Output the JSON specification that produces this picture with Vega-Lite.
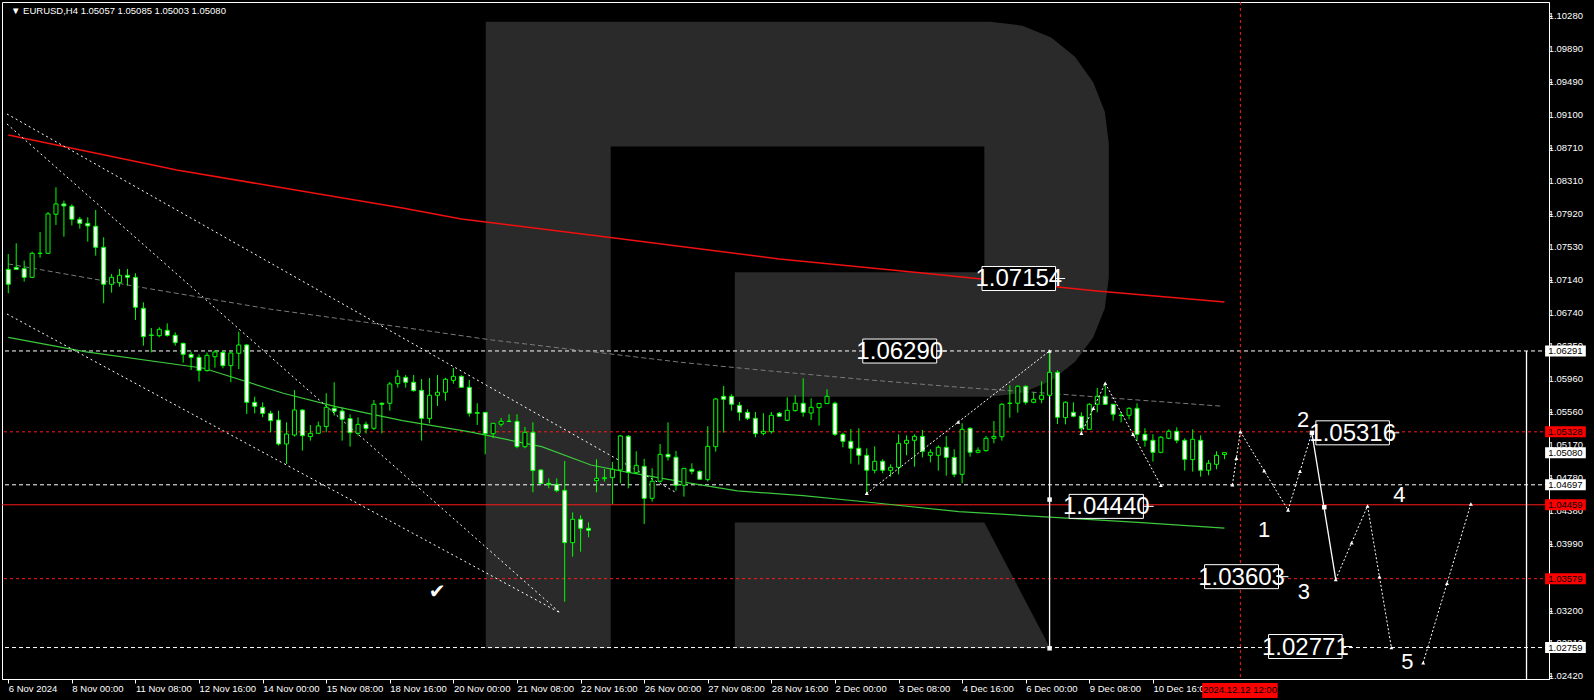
{
  "$schema": "https://vega.github.io/schema/vega-lite/v6.json",
  "width": 1547,
  "height": 677,
  "autosize": "none",
  "padding": {"left": 2, "top": 2, "right": 45, "bottom": 21},
  "background": "#000000",
  "config": {
    "view": {"stroke": "#ffffff", "strokeWidth": 1},
    "axis": {"grid": false, "domainColor": "#ffffff", "tickColor": "#ffffff", "labelColor": "#ffffff", "labelFont": "Liberation Sans", "labelFontSize": 9.5, "zindex": 0, "labelOverlap": false, "labelFlush": false}
  },
  "datasets": {
    "candles": [
      {"i":0,"o":1.07263,"h":1.07446,"l":1.06978,"c":1.07085},
      {"i":1,"o":1.07287,"h":1.07573,"l":1.07256,"c":1.07263},
      {"i":2,"o":1.07271,"h":1.07367,"l":1.07117,"c":1.07168},
      {"i":3,"o":1.07168,"h":1.07474,"l":1.0716,"c":1.07454},
      {"i":4,"o":1.07452,"h":1.07708,"l":1.07402,"c":1.07456},
      {"i":5,"o":1.07454,"h":1.07946,"l":1.0745,"c":1.07923},
      {"i":6,"o":1.07919,"h":1.0824,"l":1.07791,"c":1.08042},
      {"i":7,"o":1.08042,"h":1.08081,"l":1.07652,"c":1.08018},
      {"i":8,"o":1.08014,"h":1.08038,"l":1.07787,"c":1.07859},
      {"i":9,"o":1.07859,"h":1.07887,"l":1.07748,"c":1.07811},
      {"i":10,"o":1.07811,"h":1.07883,"l":1.07593,"c":1.0778},
      {"i":11,"o":1.07776,"h":1.0797,"l":1.07426,"c":1.07525},
      {"i":12,"o":1.07525,"h":1.07645,"l":1.06859,"c":1.07085},
      {"i":13,"o":1.07085,"h":1.07208,"l":1.06986,"c":1.07168},
      {"i":14,"o":1.07105,"h":1.07267,"l":1.07057,"c":1.07192},
      {"i":15,"o":1.07192,"h":1.07267,"l":1.07069,"c":1.07168},
      {"i":16,"o":1.07168,"h":1.07216,"l":1.0666,"c":1.06811},
      {"i":17,"o":1.06799,"h":1.0687,"l":1.06354,"c":1.06462},
      {"i":18,"o":1.06481,"h":1.06565,"l":1.06275,"c":1.06477},
      {"i":19,"o":1.06473,"h":1.06573,"l":1.06454,"c":1.06549},
      {"i":20,"o":1.06537,"h":1.0662,"l":1.06462,"c":1.06477},
      {"i":21,"o":1.06477,"h":1.06513,"l":1.06354,"c":1.0639},
      {"i":22,"o":1.06382,"h":1.0639,"l":1.06152,"c":1.06251},
      {"i":23,"o":1.06251,"h":1.06283,"l":1.06065,"c":1.06215},
      {"i":24,"o":1.06215,"h":1.06251,"l":1.05926,"c":1.06057},
      {"i":25,"o":1.06057,"h":1.06271,"l":1.06045,"c":1.06239},
      {"i":26,"o":1.06223,"h":1.06303,"l":1.06092,"c":1.06279},
      {"i":27,"o":1.06275,"h":1.06291,"l":1.06084,"c":1.06116},
      {"i":28,"o":1.06116,"h":1.06291,"l":1.05918,"c":1.06267},
      {"i":29,"o":1.06263,"h":1.06521,"l":1.06076,"c":1.06362},
      {"i":30,"o":1.06362,"h":1.06374,"l":1.0554,"c":1.05679},
      {"i":31,"o":1.05679,"h":1.05747,"l":1.05548,"c":1.05632},
      {"i":32,"o":1.0562,"h":1.05679,"l":1.05501,"c":1.05548},
      {"i":33,"o":1.05548,"h":1.0558,"l":1.05322,"c":1.05461},
      {"i":34,"o":1.05469,"h":1.0558,"l":1.05163,"c":1.05183},
      {"i":35,"o":1.05183,"h":1.05441,"l":1.04945,"c":1.05302},
      {"i":36,"o":1.0529,"h":1.05826,"l":1.05271,"c":1.05588},
      {"i":37,"o":1.05588,"h":1.05596,"l":1.05104,"c":1.05282},
      {"i":38,"o":1.05271,"h":1.05409,"l":1.05223,"c":1.0531},
      {"i":39,"o":1.0531,"h":1.05449,"l":1.05305,"c":1.05398},
      {"i":40,"o":1.0539,"h":1.05787,"l":1.05322,"c":1.0562},
      {"i":41,"o":1.05608,"h":1.05918,"l":1.05521,"c":1.05572},
      {"i":42,"o":1.05576,"h":1.05616,"l":1.05223,"c":1.05477},
      {"i":43,"o":1.05485,"h":1.05537,"l":1.05151,"c":1.05318},
      {"i":44,"o":1.0531,"h":1.05501,"l":1.05282,"c":1.05417},
      {"i":45,"o":1.05417,"h":1.05449,"l":1.0531,"c":1.05366},
      {"i":46,"o":1.0537,"h":1.05707,"l":1.0535,"c":1.05656},
      {"i":47,"o":1.05668,"h":1.05679,"l":1.0531,"c":1.05656},
      {"i":48,"o":1.05668,"h":1.05922,"l":1.0558,"c":1.05898},
      {"i":49,"o":1.05902,"h":1.06065,"l":1.05854,"c":1.05989},
      {"i":50,"o":1.05977,"h":1.06005,"l":1.05854,"c":1.05918},
      {"i":51,"o":1.05918,"h":1.06005,"l":1.05807,"c":1.05818},
      {"i":52,"o":1.05822,"h":1.05957,"l":1.05223,"c":1.05489},
      {"i":53,"o":1.05485,"h":1.05969,"l":1.05429,"c":1.05763},
      {"i":54,"o":1.05763,"h":1.06005,"l":1.05636,"c":1.05799},
      {"i":55,"o":1.05799,"h":1.05973,"l":1.05699,"c":1.05953},
      {"i":56,"o":1.05941,"h":1.06088,"l":1.05902,"c":1.05989},
      {"i":57,"o":1.05989,"h":1.06001,"l":1.0585,"c":1.05858},
      {"i":58,"o":1.05858,"h":1.05945,"l":1.05509,"c":1.05549},
      {"i":59,"o":1.05556,"h":1.05668,"l":1.0541,"c":1.05549},
      {"i":60,"o":1.0556,"h":1.0556,"l":1.0506,"c":1.05306},
      {"i":61,"o":1.05306,"h":1.05429,"l":1.05251,"c":1.05429},
      {"i":62,"o":1.05418,"h":1.05493,"l":1.0539,"c":1.05453},
      {"i":63,"o":1.05455,"h":1.05537,"l":1.0545,"c":1.05451},
      {"i":64,"o":1.05453,"h":1.05537,"l":1.05132,"c":1.05151},
      {"i":65,"o":1.05151,"h":1.05386,"l":1.05132,"c":1.05322},
      {"i":66,"o":1.05322,"h":1.05441,"l":1.04608,"c":1.04866},
      {"i":67,"o":1.04874,"h":1.04882,"l":1.04707,"c":1.04711},
      {"i":68,"o":1.04715,"h":1.04774,"l":1.04655,"c":1.04699},
      {"i":69,"o":1.04703,"h":1.04774,"l":1.04608,"c":1.04627},
      {"i":70,"o":1.04631,"h":1.04981,"l":1.03305,"c":1.04008},
      {"i":71,"o":1.04008,"h":1.04369,"l":1.03841,"c":1.04286},
      {"i":72,"o":1.04286,"h":1.04334,"l":1.03901,"c":1.04179},
      {"i":73,"o":1.04179,"h":1.0425,"l":1.04072,"c":1.04155},
      {"i":74,"o":1.04747,"h":1.05001,"l":1.04608,"c":1.04774},
      {"i":75,"o":1.0477,"h":1.04886,"l":1.04735,"c":1.04782},
      {"i":76,"o":1.04782,"h":1.04969,"l":1.04469,"c":1.04882},
      {"i":77,"o":1.04874,"h":1.0529,"l":1.04715,"c":1.05279},
      {"i":78,"o":1.05275,"h":1.0529,"l":1.04655,"c":1.04846},
      {"i":79,"o":1.04842,"h":1.05096,"l":1.04826,"c":1.04929},
      {"i":80,"o":1.04917,"h":1.05005,"l":1.04231,"c":1.04536},
      {"i":81,"o":1.04536,"h":1.04894,"l":1.04497,"c":1.04739},
      {"i":82,"o":1.04739,"h":1.05183,"l":1.04723,"c":1.0506},
      {"i":83,"o":1.0506,"h":1.05441,"l":1.04985,"c":1.05029},
      {"i":84,"o":1.05025,"h":1.051,"l":1.04627,"c":1.04691},
      {"i":85,"o":1.04691,"h":1.04893,"l":1.04556,"c":1.04893},
      {"i":86,"o":1.04882,"h":1.04953,"l":1.04822,"c":1.04858},
      {"i":87,"o":1.04858,"h":1.0487,"l":1.04755,"c":1.04763},
      {"i":88,"o":1.04759,"h":1.05394,"l":1.04735,"c":1.05155},
      {"i":89,"o":1.05151,"h":1.05731,"l":1.05092,"c":1.05719},
      {"i":90,"o":1.05751,"h":1.05874,"l":1.05318,"c":1.05715},
      {"i":91,"o":1.05751,"h":1.05775,"l":1.0558,"c":1.05656},
      {"i":92,"o":1.05644,"h":1.05683,"l":1.05461,"c":1.0556},
      {"i":93,"o":1.0556,"h":1.05596,"l":1.05469,"c":1.05489},
      {"i":94,"o":1.05489,"h":1.05564,"l":1.05263,"c":1.05306},
      {"i":95,"o":1.0531,"h":1.05549,"l":1.05286,"c":1.05334},
      {"i":96,"o":1.0533,"h":1.05564,"l":1.05306,"c":1.05525},
      {"i":97,"o":1.05549,"h":1.05564,"l":1.05509,"c":1.05513},
      {"i":98,"o":1.05465,"h":1.05739,"l":1.05453,"c":1.05584},
      {"i":99,"o":1.0558,"h":1.05763,"l":1.05568,"c":1.05668},
      {"i":100,"o":1.05668,"h":1.05965,"l":1.05509,"c":1.0556},
      {"i":101,"o":1.05552,"h":1.05727,"l":1.05469,"c":1.0562},
      {"i":102,"o":1.05616,"h":1.05668,"l":1.05402,"c":1.05666},
      {"i":103,"o":1.05664,"h":1.05834,"l":1.05664,"c":1.05751},
      {"i":104,"o":1.05668,"h":1.05687,"l":1.05278,"c":1.05298},
      {"i":105,"o":1.05298,"h":1.05318,"l":1.05143,"c":1.05215},
      {"i":106,"o":1.05215,"h":1.05362,"l":1.04949,"c":1.05132},
      {"i":107,"o":1.05132,"h":1.0537,"l":1.04937,"c":1.05048},
      {"i":108,"o":1.05048,"h":1.05132,"l":1.04596,"c":1.0487},
      {"i":109,"o":1.0487,"h":1.05155,"l":1.04834,"c":1.04977},
      {"i":110,"o":1.04977,"h":1.05,"l":1.04834,"c":1.0487},
      {"i":111,"o":1.0487,"h":1.04941,"l":1.04794,"c":1.04905},
      {"i":112,"o":1.04905,"h":1.05298,"l":1.04822,"c":1.05191},
      {"i":113,"o":1.05191,"h":1.05286,"l":1.05048,"c":1.05227},
      {"i":114,"o":1.05227,"h":1.05298,"l":1.04913,"c":1.05274},
      {"i":115,"o":1.05274,"h":1.0535,"l":1.05024,"c":1.05096},
      {"i":116,"o":1.05048,"h":1.0512,"l":1.04965,"c":1.05084},
      {"i":117,"o":1.05048,"h":1.05167,"l":1.04866,"c":1.05143},
      {"i":118,"o":1.05143,"h":1.05278,"l":1.04806,"c":1.05024},
      {"i":119,"o":1.05024,"h":1.0512,"l":1.04787,"c":1.04822},
      {"i":120,"o":1.04822,"h":1.05429,"l":1.04715,"c":1.05358},
      {"i":121,"o":1.0537,"h":1.05382,"l":1.05032,"c":1.05084},
      {"i":122,"o":1.05084,"h":1.05143,"l":1.05072,"c":1.05108},
      {"i":123,"o":1.05104,"h":1.05278,"l":1.05092,"c":1.05251},
      {"i":124,"o":1.05251,"h":1.05457,"l":1.05191,"c":1.05274},
      {"i":125,"o":1.0527,"h":1.05668,"l":1.05223,"c":1.05656},
      {"i":126,"o":1.0567,"h":1.05882,"l":1.05497,"c":1.05665},
      {"i":127,"o":1.05668,"h":1.05882,"l":1.05556,"c":1.0587},
      {"i":128,"o":1.0587,"h":1.05882,"l":1.05652,"c":1.0568},
      {"i":129,"o":1.0568,"h":1.05799,"l":1.05668,"c":1.05715},
      {"i":130,"o":1.05715,"h":1.0593,"l":1.05668,"c":1.05763},
      {"i":131,"o":1.05763,"h":1.06291,"l":1.05747,"c":1.06037},
      {"i":132,"o":1.06037,"h":1.06061,"l":1.05421,"c":1.05501},
      {"i":133,"o":1.05497,"h":1.05691,"l":1.05417,"c":1.0568},
      {"i":134,"o":1.0556,"h":1.0568,"l":1.05501,"c":1.05513},
      {"i":135,"o":1.05513,"h":1.0556,"l":1.0531,"c":1.0537},
      {"i":136,"o":1.05358,"h":1.05668,"l":1.0535,"c":1.05656},
      {"i":137,"o":1.05656,"h":1.0585,"l":1.0556,"c":1.05751},
      {"i":138,"o":1.05751,"h":1.05906,"l":1.05648,"c":1.05656},
      {"i":139,"o":1.05656,"h":1.05656,"l":1.05461,"c":1.05537},
      {"i":140,"o":1.05527,"h":1.05564,"l":1.05441,"c":1.05522},
      {"i":141,"o":1.05525,"h":1.0562,"l":1.05477,"c":1.05608},
      {"i":142,"o":1.05608,"h":1.05668,"l":1.05219,"c":1.05298},
      {"i":143,"o":1.05298,"h":1.0537,"l":1.05151,"c":1.05227},
      {"i":144,"o":1.05227,"h":1.05298,"l":1.04973,"c":1.05084},
      {"i":145,"o":1.05084,"h":1.05278,"l":1.05072,"c":1.05263},
      {"i":146,"o":1.05251,"h":1.05358,"l":1.05239,"c":1.05334},
      {"i":147,"o":1.05334,"h":1.05382,"l":1.05191,"c":1.05227},
      {"i":148,"o":1.05227,"h":1.05251,"l":1.04866,"c":1.05},
      {"i":149,"o":1.04997,"h":1.05358,"l":1.04854,"c":1.05239},
      {"i":150,"o":1.05227,"h":1.05286,"l":1.04794,"c":1.0487},
      {"i":151,"o":1.0487,"h":1.04993,"l":1.0481,"c":1.04953},
      {"i":152,"o":1.04941,"h":1.05096,"l":1.04882,"c":1.05048},
      {"i":153,"o":1.05057,"h":1.05085,"l":1.05003,"c":1.0508}
    ],
    "logo": [
      {"poly":"a","k":1,"i":60.07,"p":1.10212},
      {"poly":"a","k":2,"i":123.5,"p":1.10212},
      {"poly":"a","k":3,"i":127.6,"p":1.10165},
      {"poly":"a","k":4,"i":131.2,"p":1.10025},
      {"poly":"a","k":5,"i":134.2,"p":1.09795},
      {"poly":"a","k":6,"i":136.5,"p":1.09489},
      {"poly":"a","k":7,"i":137.95,"p":1.09141},
      {"poly":"a","k":8,"i":138.45,"p":1.08766},
      {"poly":"a","k":9,"i":138.45,"p":1.07165},
      {"poly":"a","k":10,"i":137.95,"p":1.06799},
      {"poly":"a","k":11,"i":136.5,"p":1.06455},
      {"poly":"a","k":12,"i":134.2,"p":1.06163},
      {"poly":"a","k":13,"i":131.2,"p":1.05936},
      {"poly":"a","k":14,"i":127.6,"p":1.05792},
      {"poly":"a","k":15,"i":123.5,"p":1.05745},
      {"poly":"a","k":16,"i":91.4,"p":1.05745},
      {"poly":"a","k":17,"i":91.4,"p":1.07227},
      {"poly":"a","k":18,"i":122.79,"p":1.07227},
      {"poly":"a","k":19,"i":122.79,"p":1.08725},
      {"poly":"a","k":20,"i":75.79,"p":1.08725},
      {"poly":"a","k":21,"i":75.79,"p":1.0275},
      {"poly":"a","k":22,"i":60.07,"p":1.0275},
      {"poly":"b","k":1,"i":91.4,"p":1.04247},
      {"poly":"b","k":2,"i":122.79,"p":1.04247},
      {"poly":"b","k":3,"i":131.08,"p":1.0275},
      {"poly":"b","k":4,"i":91.4,"p":1.0275}
    ],
    "levels": [
      {"p":1.06291,"k":"w"},{"p":1.04697,"k":"w"},{"p":1.02759,"k":"w"},
      {"p":1.05328,"k":"rd"},{"p":1.03579,"k":"rd"},{"p":1.04459,"k":"rs"}
    ],
    "vrules": [
      {"i":131,"p1":1.06291,"p2":1.02759},
      {"i":191,"p1":1.06291,"p2":1.02384}
    ],
    "lines": [
      {"g":"red","s":"r","i":0,"p":1.08863},{"g":"red","s":"r","i":10,"p":1.08667},{"g":"red","s":"r","i":21.2,"p":1.08447},{"g":"red","s":"r","i":35,"p":1.08225},{"g":"red","s":"r","i":49.6,"p":1.07994},{"g":"red","s":"r","i":57,"p":1.07863},{"g":"red","s":"r","i":75,"p":1.0765},{"g":"red","s":"r","i":97,"p":1.07387},{"g":"red","s":"r","i":115,"p":1.07218},{"g":"red","s":"r","i":137,"p":1.07006},{"g":"red","s":"r","i":153,"p":1.06875},
      {"g":"green","s":"gr","i":0,"p":1.06452},{"g":"green","s":"gr","i":9.6,"p":1.06283},{"g":"green","s":"gr","i":24.6,"p":1.06085},{"g":"green","s":"gr","i":34.6,"p":1.05787},{"g":"green","s":"gr","i":41.2,"p":1.05628},{"g":"green","s":"gr","i":49.6,"p":1.05461},{"g":"green","s":"gr","i":57.9,"p":1.0533},{"g":"green","s":"gr","i":67.1,"p":1.05151},{"g":"green","s":"gr","i":73.3,"p":1.04933},{"g":"green","s":"gr","i":77.5,"p":1.04853},{"g":"green","s":"gr","i":84.6,"p":1.04734},{"g":"green","s":"gr","i":91.7,"p":1.04624},{"g":"green","s":"gr","i":100,"p":1.04568},{"g":"green","s":"gr","i":108.3,"p":1.04489},{"g":"green","s":"gr","i":119.6,"p":1.04377},{"g":"green","s":"gr","i":142.1,"p":1.04249},{"g":"green","s":"gr","i":153,"p":1.0418},
      {"g":"gray","s":"gy","i":0,"p":1.07327},{"g":"gray","s":"gy","i":16.2,"p":1.07057},{"g":"gray","s":"gy","i":33,"p":1.06788},{"g":"gray","s":"gy","i":49.6,"p":1.06573},{"g":"gray","s":"gy","i":60.8,"p":1.06422},{"g":"gray","s":"gy","i":73.3,"p":1.06283},{"g":"gray","s":"gy","i":84.6,"p":1.06156},{"g":"gray","s":"gy","i":95.8,"p":1.06053},{"g":"gray","s":"gy","i":108.3,"p":1.05946},{"g":"gray","s":"gy","i":119.6,"p":1.05859},{"g":"gray","s":"gy","i":130.8,"p":1.05787},{"g":"gray","s":"gy","i":142.5,"p":1.05704},{"g":"gray","s":"gy","i":152.7,"p":1.05633},
      {"g":"chan","s":"L1","i":-0.16,"p":1.08994},{"g":"chan","s":"L1","i":69.46,"p":1.0317},
      {"g":"chan","s":"L2","i":-0.16,"p":1.09113},{"g":"chan","s":"L2","i":84.1,"p":1.046},
      {"g":"chan","s":"L3","i":-0.16,"p":1.06731},{"g":"chan","s":"L3","i":69.46,"p":1.0317},
      {"g":"fz","s":"a","i":108,"p":1.04596},{"g":"fz","s":"a","i":131,"p":1.06291},
      {"g":"fz","s":"b","i":135,"p":1.0531},{"g":"fz","s":"b","i":138,"p":1.05906},
      {"g":"fz","s":"c","i":138,"p":1.05906},{"g":"fz","s":"c","i":145,"p":1.0469},
      {"g":"fz","s":"d","i":154,"p":1.04697},{"g":"fz","s":"d","i":155,"p":1.0533},
      {"g":"fz","s":"e","i":155,"p":1.0533},{"g":"fz","s":"e","i":161,"p":1.04397},
      {"g":"fz","s":"f","i":161,"p":1.04397},{"g":"fz","s":"f","i":164,"p":1.05316},
      {"g":"fz","s":"h","i":167,"p":1.0357},{"g":"fz","s":"h","i":171,"p":1.04445},
      {"g":"fz","s":"i","i":171,"p":1.04445},{"g":"fz","s":"i","i":174,"p":1.02758},
      {"g":"fz","s":"j","i":178,"p":1.02579},{"g":"fz","s":"j","i":184,"p":1.04469},
      {"g":"fs","s":"g","i":164,"p":1.05316},{"g":"fs","s":"g","i":167,"p":1.0357}
    ],
    "tri": [
      {"i":108,"p":1.04596},{"i":119.5,"p":1.05444},{"i":131,"p":1.06291},{"i":135,"p":1.0531},{"i":136.5,"p":1.05608},{"i":138,"p":1.05906},{"i":141.5,"p":1.05298},{"i":145,"p":1.0469},{"i":154,"p":1.04697},{"i":154.5,"p":1.05013},{"i":155,"p":1.0533},{"i":158,"p":1.04864},{"i":161,"p":1.04397},{"i":162.5,"p":1.04857},{"i":167,"p":1.0357},{"i":169,"p":1.04008},{"i":171,"p":1.04445},{"i":172.5,"p":1.03602},{"i":174,"p":1.02758},{"i":178,"p":1.02579},{"i":181,"p":1.03524},{"i":184,"p":1.04469}
    ],
    "sq": [
      {"i":131,"p":1.04521},{"i":131,"p":1.0275},{"i":165.56,"p":1.0443},{"i":164,"p":1.05316}
    ],
    "nums": [
      {"t":"1","i":158,"p":1.04159},{"t":"2","i":162.9,"p":1.05469},{"t":"3","i":163,"p":1.03424},{"t":"4","i":175,"p":1.04576},{"t":"5","i":176,"p":1.02591}
    ],
    "tboxes": [
      {"t":"1.07154","i1":122.5,"i2":131.75,"ic":127.13,"p":1.07154,"tx2":132.96},
      {"t":"1.06290","i1":107.5,"i2":116.8,"ic":112.15,"p":1.0629,"tx2":118.05},
      {"t":"1.04440","i1":133.46,"i2":142.8,"ic":138.13,"p":1.0444,"tx2":144.1},
      {"t":"1.05316","i1":164.5,"i2":173.75,"ic":169.13,"p":1.05316,"tx2":175.0},
      {"t":"1.03603","i1":150.5,"i2":159.8,"ic":155.15,"p":1.03603,"tx2":161.05},
      {"t":"1.02771","i1":158.55,"i2":167.8,"ic":163.18,"p":1.02771,"tx2":169.05}
    ],
    "yticks": [
      {"p":1.1028},{"p":1.0989},{"p":1.0949},{"p":1.091},{"p":1.0871},{"p":1.0831},{"p":1.0792},{"p":1.0753},{"p":1.0714},{"p":1.0674},{"p":1.0635},{"p":1.0596},{"p":1.0556},{"p":1.0517},{"p":1.0478},{"p":1.0438},{"p":1.0399},{"p":1.036},{"p":1.032},{"p":1.0281},{"p":1.0242}
    ],
    "pboxes": [
      {"p":1.06291,"k":"w"},{"p":1.05328,"k":"r"},{"p":1.0508,"k":"w"},{"p":1.04697,"k":"w"},{"p":1.04459,"k":"r"},{"p":1.03579,"k":"r"},{"p":1.02759,"k":"w"}
    ],
    "misc": [
      {"t":"▼ EURUSD,H4  1.05057 1.05085 1.05003 1.05080","i":0.35,"p":1.1034}
    ],
    "check": [{"t":"✔","i":53.96,"p":1.03421}],
    "timebox": [{"t":"2024.12.12 12:00","i":154.95,"p":1.02248}]
  },
  "layer": [
    {
      "data": {"name": "logo"},
      "mark": {"type": "line", "fill": "#2a2a2a", "stroke": "#2a2a2a", "strokeWidth": 0, "interpolate": "linear"},
      "encoding": {
        "x": {"field": "i", "type": "quantitative", "title": null, "scale": {"domain": [-0.16, 193.2], "nice": false, "zero": false},
              "axis": {"orient": "bottom", "values": [0,8,16,24,32,40,48,56,64,72,80,88,96,104,112,120,128,136,144], "tickSize": 4, "labelPadding": 0, "labelAlign": "left", "labelDx": -2, "labelBaseline": "top", "labelOverlap": false, "labelFlush": false,
                       "labelExpr": "['6 Nov 2024','8 Nov 00:00','11 Nov 08:00','12 Nov 16:00','14 Nov 00:00','15 Nov 08:00','18 Nov 16:00','20 Nov 00:00','21 Nov 08:00','22 Nov 16:00','26 Nov 00:00','27 Nov 08:00','28 Nov 16:00','2 Dec 00:00','3 Dec 08:00','4 Dec 16:00','6 Dec 00:00','9 Dec 08:00','10 Dec 16:00'][round(datum.value/8)]"}},
        "y": {"field": "p", "type": "quantitative", "title": null, "scale": {"domain": [1.023843, 1.104467], "nice": false, "zero": false},
              "axis": {"orient": "right", "values": [1.1028,1.0989,1.0949,1.091,1.0871,1.0831,1.0792,1.0753,1.0714,1.0674,1.0635,1.0596,1.0556,1.0517,1.0478,1.0438,1.0399,1.036,1.032,1.0281,1.0242], "tickSize": 3, "labels": false}},
        "order": {"field": "k", "type": "quantitative"},
        "detail": {"field": "poly"}
      }
    },
    {
      "data": {"name": "levels"},
      "transform": [{"filter": "datum.k == 'w'"}],
      "mark": {"type": "rule", "color": "#ffffff", "strokeWidth": 1, "strokeDash": [4, 3]},
      "encoding": {"y": {"field": "p", "type": "quantitative", "title": null}}
    },
    {
      "data": {"name": "levels"},
      "transform": [{"filter": "datum.k == 'rd'"}],
      "mark": {"type": "rule", "color": "#ff1a1a", "strokeWidth": 1, "strokeDash": [3, 3]},
      "encoding": {"y": {"field": "p", "type": "quantitative", "title": null}}
    },
    {
      "data": {"name": "levels"},
      "transform": [{"filter": "datum.k == 'rs'"}],
      "mark": {"type": "rule", "color": "#ff1a1a", "strokeWidth": 1},
      "encoding": {"y": {"field": "p", "type": "quantitative", "title": null}}
    },
    {
      "data": {"values": [{"i": 155}]},
      "mark": {"type": "rule", "color": "#ff1a1a", "strokeWidth": 1, "strokeDash": [3, 3]},
      "encoding": {"x": {"field": "i", "type": "quantitative", "title": null}}
    },
    {
      "data": {"name": "lines"},
      "transform": [{"filter": "datum.g == 'gray'"}],
      "mark": {"type": "line", "color": "#7a7a7a", "strokeWidth": 1, "strokeDash": [5, 3]},
      "encoding": {"x": {"field": "i", "type": "quantitative", "title": null}, "y": {"field": "p", "type": "quantitative", "title": null}, "detail": {"field": "s"}}
    },
    {
      "data": {"name": "lines"},
      "transform": [{"filter": "datum.g == 'red'"}],
      "mark": {"type": "line", "color": "#f01010", "strokeWidth": 1.5},
      "encoding": {"x": {"field": "i", "type": "quantitative", "title": null}, "y": {"field": "p", "type": "quantitative", "title": null}, "detail": {"field": "s"}}
    },
    {
      "data": {"name": "lines"},
      "transform": [{"filter": "datum.g == 'green'"}],
      "mark": {"type": "line", "color": "#3cc83c", "strokeWidth": 1.2},
      "encoding": {"x": {"field": "i", "type": "quantitative", "title": null}, "y": {"field": "p", "type": "quantitative", "title": null}, "detail": {"field": "s"}}
    },
    {
      "data": {"name": "lines"},
      "transform": [{"filter": "datum.g == 'chan'"}],
      "mark": {"type": "line", "color": "#ffffff", "strokeWidth": 1, "strokeDash": [2, 3]},
      "encoding": {"x": {"field": "i", "type": "quantitative", "title": null}, "y": {"field": "p", "type": "quantitative", "title": null}, "detail": {"field": "s"}}
    },
    {
      "data": {"name": "vrules"},
      "mark": {"type": "rule", "color": "#ffffff", "strokeWidth": 1.3},
      "encoding": {"x": {"field": "i", "type": "quantitative", "title": null}, "y": {"field": "p1", "type": "quantitative", "title": null}, "y2": {"field": "p2"}}
    },
    {
      "data": {"name": "candles"},
      "mark": {"type": "rule", "color": "#00ff00", "strokeWidth": 1},
      "encoding": {"x": {"field": "i", "type": "quantitative", "title": null}, "y": {"field": "l", "type": "quantitative", "title": null}, "y2": {"field": "h"}}
    },
    {
      "data": {"name": "candles"},
      "mark": {"type": "bar", "width": 4, "stroke": "#00ff00", "strokeWidth": 1},
      "encoding": {
        "x": {"field": "i", "type": "quantitative", "title": null},
        "y": {"field": "o", "type": "quantitative", "title": null},
        "y2": {"field": "c"},
        "fill": {"condition": {"test": "datum.c > datum.o", "value": "#000000"}, "value": "#ffffff"}
      }
    },
    {
      "data": {"name": "lines"},
      "transform": [{"filter": "datum.g == 'fz'"}],
      "mark": {"type": "line", "color": "#ffffff", "strokeWidth": 1, "strokeDash": [2, 2]},
      "encoding": {"x": {"field": "i", "type": "quantitative", "title": null}, "y": {"field": "p", "type": "quantitative", "title": null}, "detail": {"field": "s"}}
    },
    {
      "data": {"name": "lines"},
      "transform": [{"filter": "datum.g == 'fs'"}],
      "mark": {"type": "line", "color": "#ffffff", "strokeWidth": 1.3},
      "encoding": {"x": {"field": "i", "type": "quantitative", "title": null}, "y": {"field": "p", "type": "quantitative", "title": null}, "detail": {"field": "s"}}
    },
    {
      "data": {"name": "tri"},
      "mark": {"type": "point", "shape": "triangle-up", "filled": true, "color": "#ffffff", "size": 16, "opacity": 1},
      "encoding": {"x": {"field": "i", "type": "quantitative", "title": null}, "y": {"field": "p", "type": "quantitative", "title": null}}
    },
    {
      "data": {"name": "sq"},
      "mark": {"type": "point", "shape": "square", "filled": true, "color": "#ffffff", "size": 20, "opacity": 1},
      "encoding": {"x": {"field": "i", "type": "quantitative", "title": null}, "y": {"field": "p", "type": "quantitative", "title": null}}
    },
    {
      "data": {"name": "nums"},
      "mark": {"type": "text", "color": "#ffffff", "font": "Liberation Sans", "fontSize": 22, "align": "center", "baseline": "middle"},
      "encoding": {"x": {"field": "i", "type": "quantitative", "title": null}, "y": {"field": "p", "type": "quantitative", "title": null}, "text": {"field": "t"}}
    },
    {
      "data": {"name": "tboxes"},
      "mark": {"type": "rule", "color": "#ffffff", "strokeWidth": 1},
      "encoding": {"x": {"field": "i2", "type": "quantitative", "title": null}, "x2": {"field": "tx2"}, "y": {"field": "p", "type": "quantitative", "title": null}}
    },
    {
      "data": {"name": "tboxes"},
      "mark": {"type": "rect", "height": 24, "fill": "#000000", "stroke": "#ffffff", "strokeWidth": 1},
      "encoding": {"x": {"field": "i1", "type": "quantitative", "title": null}, "x2": {"field": "i2"}, "y": {"field": "p", "type": "quantitative", "title": null}}
    },
    {
      "data": {"name": "tboxes"},
      "mark": {"type": "text", "color": "#ffffff", "font": "Liberation Sans Narrow, Liberation Sans", "fontSize": 24, "align": "center", "baseline": "middle", "dy": 1},
      "encoding": {"x": {"field": "ic", "type": "quantitative", "title": null}, "y": {"field": "p", "type": "quantitative", "title": null}, "text": {"field": "t"}}
    },
    {
      "data": {"name": "yticks"},
      "mark": {"type": "text", "color": "#ffffff", "font": "Liberation Sans", "fontSize": 9.5, "align": "left", "baseline": "middle"},
      "encoding": {
        "x": {"datum": 193.78, "type": "quantitative"},
        "y": {"field": "p", "type": "quantitative", "title": null},
        "text": {"field": "p", "format": ".5f"}
      }
    },
    {
      "data": {"name": "pboxes"},
      "mark": {"type": "rect", "height": 11},
      "encoding": {
        "x": {"datum": 193.34, "type": "quantitative"}, "x2": {"datum": 198.46},
        "y": {"field": "p", "type": "quantitative", "title": null},
        "fill": {"condition": {"test": "datum.k == 'r'", "value": "#ff0000"}, "value": "#ffffff"}
      }
    },
    {
      "data": {"name": "pboxes"},
      "mark": {"type": "text", "color": "#000000", "font": "Liberation Sans", "fontSize": 9.5, "align": "center", "baseline": "middle"},
      "encoding": {
        "x": {"datum": 195.9, "type": "quantitative"},
        "y": {"field": "p", "type": "quantitative", "title": null},
        "text": {"field": "p", "format": ".5f"}
      }
    },
    {
      "data": {"name": "timebox"},
      "mark": {"type": "rect", "height": 15, "fill": "#ff0000"},
      "encoding": {"x": {"datum": 150.2, "type": "quantitative"}, "x2": {"datum": 159.7}, "y": {"field": "p", "type": "quantitative", "title": null}}
    },
    {
      "data": {"name": "timebox"},
      "mark": {"type": "text", "color": "#000000", "font": "Liberation Sans", "fontSize": 9.5, "align": "center", "baseline": "middle"},
      "encoding": {"x": {"field": "i", "type": "quantitative", "title": null}, "y": {"field": "p", "type": "quantitative", "title": null}, "text": {"field": "t"}}
    },
    {
      "data": {"name": "misc"},
      "mark": {"type": "text", "color": "#ffffff", "font": "Liberation Sans", "fontSize": 9.5, "align": "left", "baseline": "middle"},
      "encoding": {"x": {"field": "i", "type": "quantitative", "title": null}, "y": {"field": "p", "type": "quantitative", "title": null}, "text": {"field": "t"}}
    },
    {
      "data": {"name": "check"},
      "mark": {"type": "text", "color": "#ffffff", "font": "DejaVu Sans", "fontSize": 20, "align": "center", "baseline": "middle"},
      "encoding": {"x": {"field": "i", "type": "quantitative", "title": null}, "y": {"field": "p", "type": "quantitative", "title": null}, "text": {"field": "t"}}
    }
  ]
}
